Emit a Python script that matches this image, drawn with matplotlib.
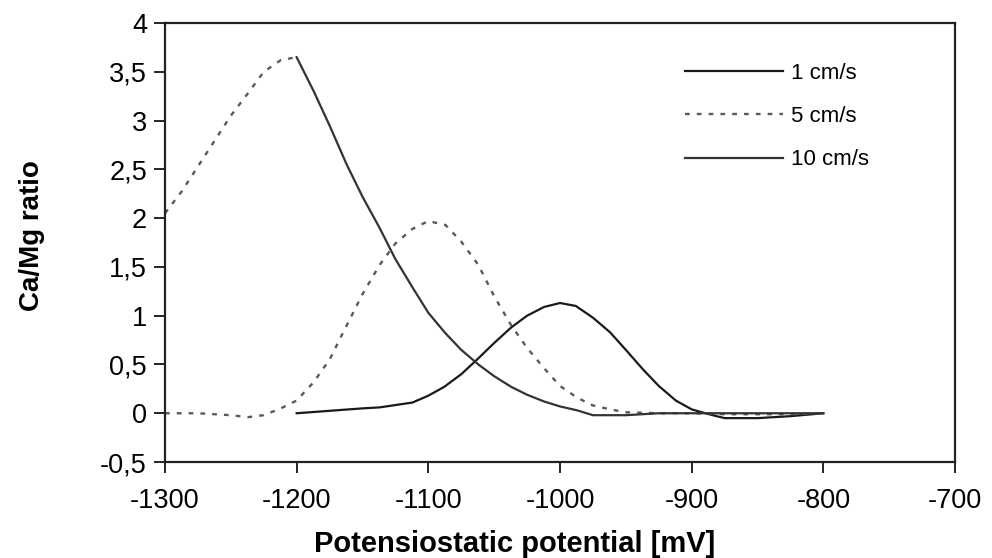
import matplotlib
matplotlib.use('Agg')
import matplotlib.pyplot as plt
from matplotlib.ticker import FuncFormatter

plt.rcParams['font.family'] = ['Liberation Sans', 'DejaVu Sans']
plt.rcParams['axes.unicode_minus'] = False

# 1 cm/s
x_1 = [-1200, -1150, -1137, -1112, -1100, -1088, -1075, -1063, -1050, -1037, -1025, -1012,
       -1000, -988, -975, -962, -950, -937, -925, -912, -900, -887, -875, -850, -825, -800]
y_1 = [0.00, 0.05, 0.06, 0.11, 0.18, 0.27, 0.40, 0.55, 0.72, 0.88, 1.00, 1.09,
       1.13, 1.10, 0.98, 0.83, 0.65, 0.45, 0.28, 0.13, 0.04, -0.01, -0.05, -0.05, -0.03, 0.00]

# 5 cm/s
x_5 = [-1300, -1275, -1250, -1237, -1225, -1212, -1200, -1187, -1175, -1162, -1150, -1137,
       -1125, -1112, -1100, -1087, -1075, -1062, -1050, -1037, -1025, -1012, -1000, -987,
       -975, -962, -950, -925, -900, -875, -850, -825, -800]
y_5 = [0.00, 0.00, -0.02, -0.04, -0.02, 0.05, 0.13, 0.32, 0.55, 0.90, 1.22, 1.52,
       1.74, 1.89, 1.97, 1.93, 1.76, 1.52, 1.20, 0.90, 0.67, 0.46, 0.28, 0.16,
       0.08, 0.04, 0.01, 0.00, 0.00, -0.01, -0.01, -0.01, 0.00]

# 10 cm/s (left part drawn dotted in the original)
x_10a = [-1300, -1287, -1275, -1262, -1250, -1237, -1225, -1212, -1200]
y_10a = [2.05, 2.28, 2.53, 2.80, 3.05, 3.28, 3.50, 3.62, 3.65]
x_10 = [-1200, -1187, -1175, -1162, -1150, -1137, -1125, -1112, -1100, -1087, -1075, -1062,
        -1050, -1037, -1025, -1012, -1000, -987, -975, -950, -925, -900, -875, -850, -825, -800]
y_10 = [3.65, 3.30, 2.95, 2.55, 2.22, 1.90, 1.58, 1.29, 1.03, 0.82, 0.65, 0.50,
        0.38, 0.27, 0.19, 0.12, 0.07, 0.03, -0.02, -0.02, 0.00, 0.00, 0.00, 0.00, 0.00, 0.00]

fig = plt.figure(figsize=(9.92, 5.58), dpi=100)
ax = fig.add_axes([0.1663, 0.172, 0.7964, 0.7867])

ax.plot(x_1, y_1, color='#1a1a1a', linewidth=1.6, label='1 cm/s')
ax.plot(x_5, y_5, color='#5a5a5a', linewidth=1.7, linestyle=(0, (2, 3)), label='5 cm/s')
ax.plot(x_10, y_10, color='#333333', linewidth=1.6, label='10 cm/s')
ax.plot(x_10a, y_10a, color='#5a5a5a', linewidth=1.7, linestyle=(0, (2, 3)))

ax.set_xlim(-1300, -700)
ax.set_ylim(-0.5, 4)
ax.set_xticks(range(-1300, -699, 100))
ax.set_yticks([-0.5, 0, 0.5, 1, 1.5, 2, 2.5, 3, 3.5, 4])
ax.yaxis.set_major_formatter(FuncFormatter(lambda v, p: ('%g' % v).replace('.', ',')))
ax.tick_params(direction='out', length=8, width=1.2, labelsize=19.5, pad=5)
ax.tick_params(axis='x', pad=11)
for s in ax.spines.values():
    s.set_linewidth(1.6)
    s.set_color('#222222')

ax.set_xlabel('Potensiostatic potential [mV]', fontsize=21, fontweight='bold')
ax.set_ylabel('Ca/Mg ratio', fontsize=20, fontweight='bold')
ax.xaxis.set_label_coords(0.443, -0.155)
ax.yaxis.set_label_coords(-0.152, 0.517)

ax.legend(loc='upper left', bbox_to_anchor=(685 / 992, 1 - 63 / 558),
          bbox_transform=fig.transFigure, borderaxespad=0, borderpad=0,
          frameon=False, fontsize=16, handlelength=4.4, handletextpad=0.35,
          labelspacing=1.0)

fig.savefig('out.png', dpi=100)
